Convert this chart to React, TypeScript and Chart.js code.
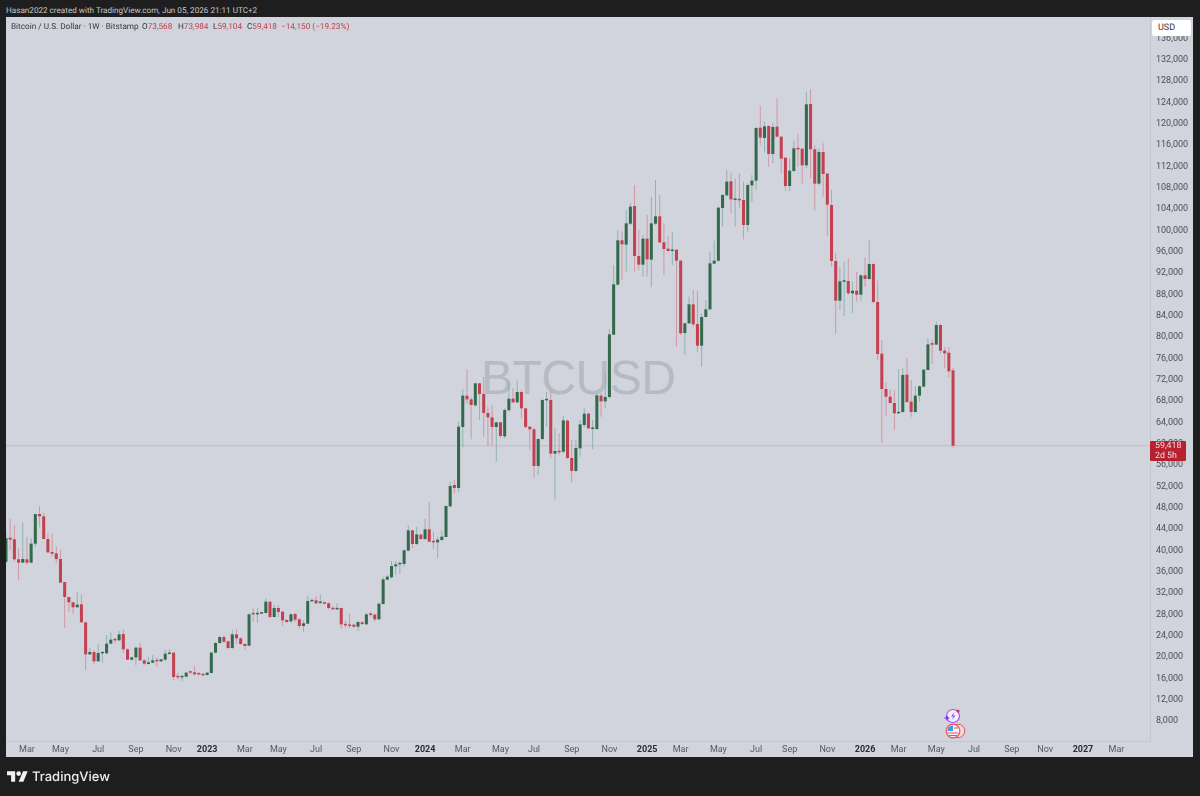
import { useEffect, useRef } from "react";
import { Chart, registerables } from "chart.js";

Chart.register(...registerables);

const opens = [
  37688, 42188, 41875, 38125, 37500, 38125, 37500, 41062, 46625, 46188,
  41938, 39500, 39250, 38188, 33875, 31062, 30062, 29125, 29688, 26312,
  20312, 20750, 19000, 20500, 20500, 22312, 23125, 22938, 24125, 21250,
  19312, 19750, 21562, 19188, 18500, 18750, 19188, 19000, 19312, 20375,
  20625, 16125, 16000, 16125, 17000, 16938, 16688, 16625, 16438, 16812,
  20625, 22438, 23562, 22750, 21500, 24062, 23312, 22250, 21938, 27938,
  27812, 27938, 28062, 30188, 27312, 29000, 28312, 26750, 26500, 27875,
  26875, 25625, 26062, 30250, 30438, 29938, 30000, 29875, 29000, 28750,
  29000, 25938, 25875, 25875, 25500, 26312, 25938, 27812, 27750, 26875,
  29750, 34312, 34750, 36812, 37188, 37250, 39750, 43562, 41000, 42750,
  41938, 43750, 41562, 41312, 41750, 42312, 48062, 52062, 51500, 62938,
  68812, 68125, 67000, 71125, 69125, 65562, 64750, 62938, 63812, 61188,
  66062, 68250, 67562, 69500, 66438, 63000, 62500, 55625, 60688, 67938,
  68000, 57938, 58500, 58312, 64125, 57125, 54688, 58938, 63312, 65438,
  62562, 62562, 68812, 67750, 68562, 80250, 89625, 97938, 97125, 101062,
  104375, 95000, 93375, 98250, 94312, 101062, 102438, 97562, 96375, 95938,
  96188, 94125, 80562, 82375, 85938, 82250, 78188, 83562, 85000, 93562,
  94125, 104000, 106375, 109000, 105500, 105625, 105500, 100812, 108250, 109125,
  119062, 117125, 119375, 114125, 119250, 117375, 113438, 108125, 110938, 115188,
  115125, 112000, 123500, 115000, 108562, 114500, 110438, 104562, 94062, 86625,
  90188, 90312, 88000, 88500, 87750, 91375, 90688, 93500, 86375, 76688,
  70062, 68625, 67438, 65500, 65750, 72750, 67688, 65750, 68812, 70500,
  73625, 78500, 78375, 82062, 77250, 76875, 73568,
];

const highs = [
  43312, 45688, 44562, 40188, 45062, 42375, 42062, 46625, 48125, 46875,
  43000, 42875, 40500, 39875, 33875, 31062, 30188, 32062, 31562, 26312,
  21438, 21125, 22250, 20812, 23938, 24438, 23312, 24688, 25000, 21438,
  19875, 21750, 22500, 19375, 19875, 20188, 19750, 19500, 21125, 21250,
  20688, 16875, 16375, 17000, 17188, 18188, 16812, 16750, 17000, 20812,
  22688, 23812, 23938, 22875, 24875, 25000, 23500, 22375, 28000, 28938,
  28938, 28250, 30812, 30188, 29562, 29562, 28438, 26875, 28000, 28125,
  27062, 26750, 31250, 30750, 31250, 31562, 30188, 30062, 29375, 29875,
  29062, 26625, 28000, 26062, 26625, 26562, 28000, 28312, 28000, 30000,
  34875, 35188, 37812, 37812, 37688, 40000, 44562, 43625, 44250, 43000,
  45688, 48938, 43312, 42375, 43625, 48312, 52688, 53000, 63938, 70062,
  73750, 68500, 71250, 71125, 72375, 66750, 67062, 63812, 63938, 66438,
  71438, 70188, 71625, 69875, 66438, 63125, 62688, 60812, 68125, 69562,
  69875, 62688, 61750, 65000, 64375, 60500, 60500, 64250, 66438, 65625,
  64250, 69250, 69250, 73000, 81250, 93312, 99875, 99562, 103625, 104875,
  108312, 99875, 98938, 102688, 106125, 109250, 106438, 101125, 98812, 99562,
  96250, 94250, 82500, 87375, 88625, 88500, 84250, 86750, 95812, 97875,
  104250, 106625, 111125, 110625, 109562, 110500, 108938, 108625, 110188, 119250,
  123188, 120188, 119562, 119875, 124562, 117500, 113500, 113312, 116625, 117875,
  115188, 125812, 126250, 115812, 115188, 116125, 110625, 107375, 95625, 93000,
  93938, 94562, 90188, 92062, 91562, 94750, 98000, 93625, 90375, 79250,
  71250, 70000, 69875, 73750, 73938, 75812, 71750, 70625, 70812, 73750,
  79562, 79375, 82688, 82188, 78000, 77875, 73984,
];

const lows = [
  37375, 39875, 37688, 34250, 37500, 37062, 37500, 40500, 44125, 41938,
  39250, 38625, 37375, 33750, 25312, 28312, 27812, 29125, 26250, 17375,
  20188, 18500, 19000, 18750, 20375, 22250, 22375, 22812, 20625, 19250,
  19125, 18312, 19062, 18312, 18438, 18625, 18000, 18875, 19125, 20312,
  15500, 15625, 15312, 16000, 16625, 16375, 16312, 16250, 16312, 16750,
  20500, 22250, 22375, 21312, 21312, 22375, 22062, 21125, 21938, 26438,
  26250, 27812, 28000, 27062, 27250, 27250, 25625, 26125, 26125, 26438,
  25188, 24562, 26000, 30188, 29750, 29750, 29688, 28750, 28625, 28625,
  25188, 25312, 25188, 25312, 24750, 25875, 25812, 27375, 26438, 26750,
  29688, 34250, 34562, 35188, 35375, 36750, 39625, 40188, 40812, 41750,
  41750, 41312, 40062, 38312, 41625, 42250, 47875, 50500, 50812, 59125,
  67375, 60625, 66750, 64250, 61125, 59375, 59562, 56438, 60812, 60812,
  66000, 67375, 67375, 64562, 62688, 58625, 53438, 53938, 60500, 63000,
  57062, 49375, 57688, 58000, 56875, 52500, 54562, 57375, 62875, 62500,
  58750, 62375, 64875, 66438, 68250, 80188, 89562, 90500, 92062, 100812,
  92062, 92375, 91125, 91125, 89125, 100812, 97375, 91438, 95812, 93312,
  78000, 80188, 76438, 82250, 81750, 77062, 74250, 83500, 84875, 93438,
  93938, 100500, 106125, 103000, 100500, 103938, 98125, 99562, 105188, 107375,
  115812, 114375, 111750, 112375, 117250, 110500, 107250, 107188, 110812, 111750,
  108500, 111438, 109562, 103500, 108312, 106125, 98812, 93000, 80375, 84875,
  83750, 87688, 84250, 86438, 86625, 89250, 90500, 86125, 75500, 59875,
  65000, 67375, 62375, 65500, 65625, 67500, 64875, 65625, 67688, 70375,
  73562, 74750, 78312, 76625, 73938, 72250, 59104,
];

const closes = [
  42062, 41812, 38125, 37500, 38188, 37500, 41062, 46625, 46188, 41938,
  39438, 39188, 38188, 33750, 31062, 30062, 29125, 29625, 26312, 20312,
  20750, 19000, 20562, 20625, 22312, 23062, 22938, 24062, 21250, 19312,
  19750, 21562, 19188, 18562, 18812, 19188, 19000, 19375, 20438, 20625,
  16062, 16000, 16188, 16875, 16875, 16562, 16562, 16375, 16875, 20625,
  22438, 23562, 22688, 21500, 24062, 23312, 22250, 21875, 27812, 27812,
  28000, 28125, 30188, 27312, 29000, 28250, 26688, 26375, 27812, 26812,
  25625, 26125, 30312, 30500, 29875, 30062, 29812, 29000, 28750, 29000,
  25938, 25750, 25625, 25500, 26375, 26000, 27812, 27688, 26875, 29812,
  34375, 34875, 36875, 37188, 37375, 39812, 43562, 41000, 42812, 41938,
  43750, 41438, 41312, 41812, 42375, 48125, 51875, 51500, 63000, 68812,
  68125, 67062, 71125, 69125, 65562, 64750, 62938, 63812, 61250, 66125,
  68250, 67562, 69500, 66438, 62938, 62500, 55625, 60688, 68000, 68188,
  57938, 58438, 58188, 64188, 57125, 54688, 59000, 63438, 65438, 62688,
  62688, 68875, 67750, 68562, 80312, 89688, 97938, 97188, 101125, 104250,
  95000, 93375, 98250, 94375, 101125, 102438, 97562, 96312, 95938, 96125,
  94125, 80500, 82375, 85938, 82188, 78188, 83562, 85000, 93625, 94125,
  104062, 106438, 108938, 105625, 105688, 105438, 100812, 108312, 109125, 119000,
  117188, 119312, 114125, 119188, 117375, 113250, 108125, 111000, 115188, 115000,
  112000, 123438, 115000, 108562, 114500, 110375, 104625, 94062, 86625, 90250,
  90375, 88000, 88500, 87750, 91375, 90688, 93500, 86375, 76625, 70062,
  68625, 67438, 65500, 65750, 72688, 67625, 65750, 68812, 70562, 73688,
  78438, 78375, 82062, 77250, 76750, 73375, 59418,
];

// weeks on the time axis, candles plus the empty space after the last one
const WEEK_COUNT = 274;
const monthTickWeeks = [5, 13, 22, 31, 40, 48, 57, 65, 74, 83, 92, 100, 109, 118, 126, 135, 144, 153, 161, 170, 179, 187, 196, 205, 213, 222, 231, 240, 248, 257, 265];
const monthTickNames = ["Mar", "May", "Jul", "Sep", "Nov", "2023", "Mar", "May", "Jul", "Sep", "Nov", "2024", "Mar", "May", "Jul", "Sep", "Nov", "2025", "Mar", "May", "Jul", "Sep", "Nov", "2026", "Mar", "May", "Jul", "Sep", "Nov", "2027", "Mar"];
const priceTicks = [8000, 12000, 16000, 20000, 24000, 28000, 32000, 36000, 40000, 44000, 48000, 52000, 56000, 60000, 64000, 68000, 72000, 76000, 80000, 84000, 88000, 92000, 96000, 100000, 104000, 108000, 112000, 116000, 120000, 124000, 128000, 132000, 136000];
const lastPrice = 59418;

const UP = "#33694c";
const DOWN = "#c2404f";
const UP_WICK = "#8fb3b3";
const DOWN_WICK = "#cf98a4";
const FONT = "Roboto, 'Liberation Sans', sans-serif";

const weekLabels = Array.from({ length: WEEK_COUNT }, (_, i) => {
  const at = monthTickWeeks.indexOf(i);
  return at === -1 ? "" : monthTickNames[at];
});

const isUp = (i: number) => closes[i] >= opens[i];

export default function App() {
  const chartRef = useRef<HTMLCanvasElement>(null);

  useEffect(() => {
    if (!chartRef.current) return;
    document.body.style.margin = "0";

    const chart = new Chart(chartRef.current, {
      type: "bar",
      data: {
        labels: weekLabels,
        datasets: [
          {
            label: "Body",
            data: opens.map((o, i) => [o, closes[i]]),
            backgroundColor: opens.map((_, i) => (isUp(i) ? UP : DOWN)),
            grouped: false,
            maxBarThickness: 3.4,
            minBarLength: 1.5,
            order: 1,
          },
          {
            label: "Wick",
            data: lows.map((l, i) => [l, highs[i]]),
            backgroundColor: opens.map((_, i) => (isUp(i) ? UP_WICK : DOWN_WICK)),
            grouped: false,
            maxBarThickness: 1,
            order: 2,
          },
          {
            type: "line",
            label: "Last",
            data: weekLabels.map(() => lastPrice),
            borderColor: "rgba(190, 60, 75, 0.2)",
            borderWidth: 1,
            pointRadius: 0,
            order: 3,
          },
        ] as any,
      },
      options: {
        animation: false,
        responsive: false,
        devicePixelRatio: 1,
        layout: { padding: { left: 6, top: 17, right: 7, bottom: 39 } },
        plugins: { legend: { display: false }, tooltip: { enabled: false } },
        scales: {
          x: {
            type: "category",
            offset: false,
            afterFit: (s) => {
              s.height = 16;
            },
            grid: { display: false, drawTicks: false },
            border: { display: true, color: "#c4c7cf" },
            ticks: {
              autoSkip: false,
              maxRotation: 0,
              minRotation: 0,
              padding: 3,
              color: (ctx: any) => (/^\d{4}$/.test(ctx.tick.label) ? "#2a2c33" : "#555862"),
              font: (ctx: any) => ({
                family: FONT,
                size: 9,
                weight: /^\d{4}$/.test(ctx.tick.label) ? "bold" : "normal",
              }),
            },
          },
          y: {
            position: "right",
            min: 4062,
            max: 139812,
            afterFit: (s) => {
              s.width = 43;
            },
            afterBuildTicks: (s) => {
              s.ticks = priceTicks.map((value) => ({ value }));
            },
            grid: { display: false, drawTicks: false },
            border: { display: true, color: "#c4c7cf" },
            ticks: {
              autoSkip: false,
              padding: 6,
              labelOffset: 1,
              color: "#4b4e58",
              font: { family: FONT, size: 9 },
              callback: (v) => Number(v).toLocaleString("en-US"),
            },
          },
        },
      },
    });

    return () => chart.destroy();
  }, []);

  return (
    <div style={{ position: "fixed", inset: 0, width: 1200, height: 796, background: "#1e1e1e", fontFamily: FONT, textRendering: "geometricPrecision", overflow: "hidden" }}>
      <div style={{ position: "absolute", left: 6, top: 4, fontSize: 8.15, lineHeight: "12px", color: "#c9c9c9", whiteSpace: "nowrap" }}>
        Hasan2022 created with TradingView.com, Jun 05, 2026 21:11 UTC+2
      </div>

      <div style={{ position: "absolute", left: 6, top: 17, width: 1187, height: 740, background: "#d1d4dc" }} />

      <div style={{ position: "absolute", left: 481, top: 351, fontFamily: "'Liberation Sans', sans-serif", fontSize: 48, lineHeight: "56px", letterSpacing: -0.5, color: "#b7bac2", whiteSpace: "nowrap" }}>
        BTCUSD
      </div>

      <canvas ref={chartRef} width={1200} height={796} style={{ position: "absolute", left: 0, top: 0, width: 1200, height: 796 }} />

      <div style={{ position: "absolute", left: 11, top: 21, fontSize: 8.2, lineHeight: "12px", color: "#33353c", whiteSpace: "nowrap" }}>
        <span>Bitcoin / U.S. Dollar · 1W · Bitstamp</span>
        <span style={{ position: "absolute", left: 131 }}>O<span style={{ color: DOWN }}>73,568</span></span>
        <span style={{ position: "absolute", left: 167 }}>H<span style={{ color: DOWN }}>73,984</span></span>
        <span style={{ position: "absolute", left: 202 }}>L<span style={{ color: DOWN }}>59,104</span></span>
        <span style={{ position: "absolute", left: 236 }}>C<span style={{ color: DOWN }}>59,418</span></span>
        <span style={{ position: "absolute", left: 270, color: DOWN }}>−14,150 (−19.23%)</span>
      </div>

      <div style={{ position: "absolute", left: 1152, top: 20, width: 39, height: 16, background: "#ffffff", borderRadius: 2, fontSize: 9, lineHeight: "16px", color: "#33353c", paddingLeft: 6, boxSizing: "border-box" }}>
        USD
      </div>

      <div style={{ position: "absolute", left: 1150, top: 441, width: 36, height: 20, background: "#b9202f", borderRadius: 1, color: "#f3d9dc", fontSize: 8.8, lineHeight: "9.5px", paddingLeft: 5, paddingTop: 1, boxSizing: "border-box" }}>
        59,418
        <br />
        2d 5h
      </div>

      <svg width="24" height="36" viewBox="0 0 24 36" style={{ position: "absolute", left: 944, top: 707 }}>
        <circle cx="9" cy="9" r="6.5" fill="#f4f0fb" stroke="#a855f7" strokeWidth="1.2" />
        <path d="M10.5 5 L7 9.5 L9.5 9.5 L7.5 13 L11.5 8.5 L9 8.5 Z" fill="#8b3fe0" />
        <path d="M3 8 L4 10 L6 11 L4 12 L3 14 L2 12 L0 11 L2 10 Z" fill="#7c3aed" />
        <circle cx="14" cy="4" r="1.6" fill="#e0344b" />
        <circle cx="14" cy="24" r="6.8" fill="#f6d5d8" stroke="#e8505f" strokeWidth="1" />
        <circle cx="9" cy="24" r="6.8" fill="#f4f4f6" stroke="#e8505f" strokeWidth="1.2" />
        <path d="M3.5 22 A5.5 5.5 0 0 1 9 18.5 L9 24 L3.5 24 Z" fill="#3f9be0" />
        <path d="M10 21 H14 M3.5 26 H14 M5 28.5 H13" stroke="#e8505f" strokeWidth="1" />
      </svg>

      <svg width="21" height="11" viewBox="0 4 36 18" style={{ position: "absolute", left: 7, top: 771 }}>
        <path d="M14 22H7V11H0V4h14v18zM28 22h-8l7.5-18h8L28 22z" fill="#f0f0f0" />
        <circle cx="20" cy="8" r="4" fill="#f0f0f0" />
      </svg>
      <div style={{ position: "absolute", left: 32, top: 767, fontFamily: "Inter, sans-serif", fontSize: 13, lineHeight: "20px", fontWeight: 500, color: "#ececec", whiteSpace: "nowrap" }}>
        TradingView
      </div>
    </div>
  );
}
